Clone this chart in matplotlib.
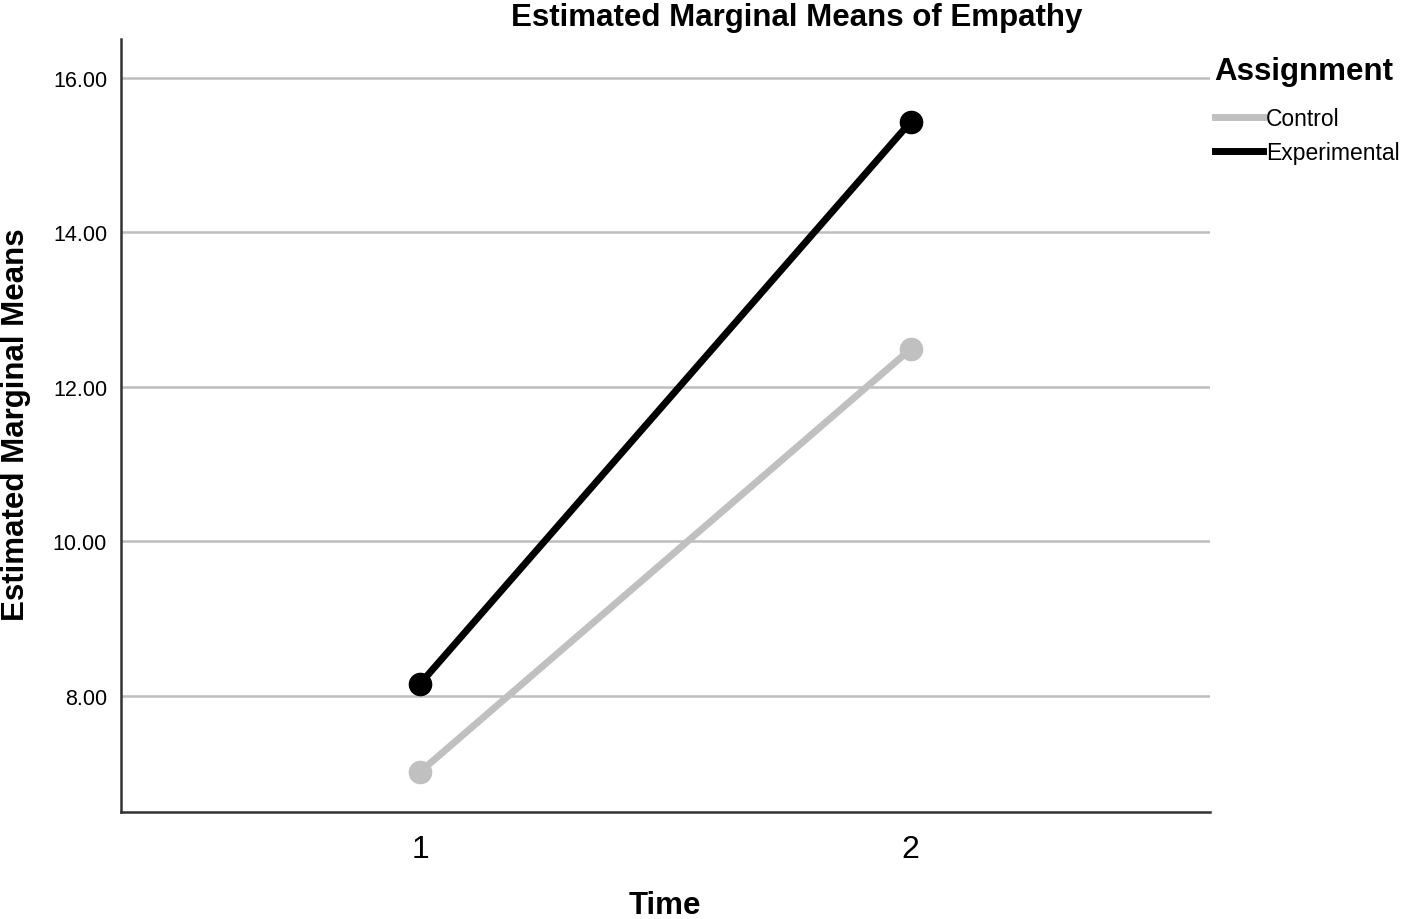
import matplotlib
matplotlib.use('Agg')
import matplotlib.pyplot as plt
from matplotlib.lines import Line2D

plt.rcParams['font.family'] = ['Liberation Sans', 'DejaVu Sans']

# data
time = [1, 2]
control = [7.02, 12.49]
experimental = [8.16, 15.43]
yticks = [8, 10, 12, 14, 16]

fig = plt.figure(figsize=(14.18, 9.2), dpi=100)
ax = fig.add_axes([0.0853, 0.1163, 0.768, 0.8402])

ax.plot(time, control, color='#c0c0c0', lw=5, marker='o', ms=16, solid_capstyle='butt', zorder=3)
ax.plot(time, experimental, color='#000000', lw=5, marker='o', ms=16, solid_capstyle='butt', zorder=4)

ax.set_xlim(0.39, 2.61)
ax.set_ylim(6.5, 16.5)
ax.set_xticks(time)
ax.set_xticklabels(['1', '2'], fontsize=23)
ax.set_yticks(yticks)
ax.set_yticklabels(['%.2f' % v for v in yticks], fontsize=15.5)
ax.tick_params(length=0, pad=10)
ax.tick_params(axis='x', pad=16)
ax.grid(axis='y', color='#bdbdbd', lw=1.8)
ax.set_axisbelow(True)
for s in ['top', 'right']:
    ax.spines[s].set_visible(False)
for s in ['left', 'bottom']:
    ax.spines[s].set_color('#333333')
    ax.spines[s].set_linewidth(1.8)

fig.text(0.562, 0.98, 'Estimated Marginal Means of Empathy', ha='center', va='center',
         fontsize=22.5, fontweight='bold')
fig.text(0.011, 0.538, 'Estimated Marginal Means', rotation=90, ha='center', va='center',
         fontsize=22.5, fontweight='bold')
fig.text(0.469, 0.015, 'Time', ha='center', va='center', fontsize=22.5, fontweight='bold')

handles = [Line2D([], [], color='#c0c0c0', lw=5),
           Line2D([], [], color='#000000', lw=5)]
leg = fig.legend(handles, ['Control', 'Experimental'], loc='upper left',
                 bbox_to_anchor=(0.842, 0.96), frameon=False, fontsize=16.5,
                 handlelength=2.1, handletextpad=0.15, labelspacing=0.45,
                 title='Assignment', title_fontproperties={'size': 22.5, 'weight': 'bold'})
leg._legend_box.align = 'left'
leg._legend_box.sep = 15

fig.savefig('out.png', dpi=100)
